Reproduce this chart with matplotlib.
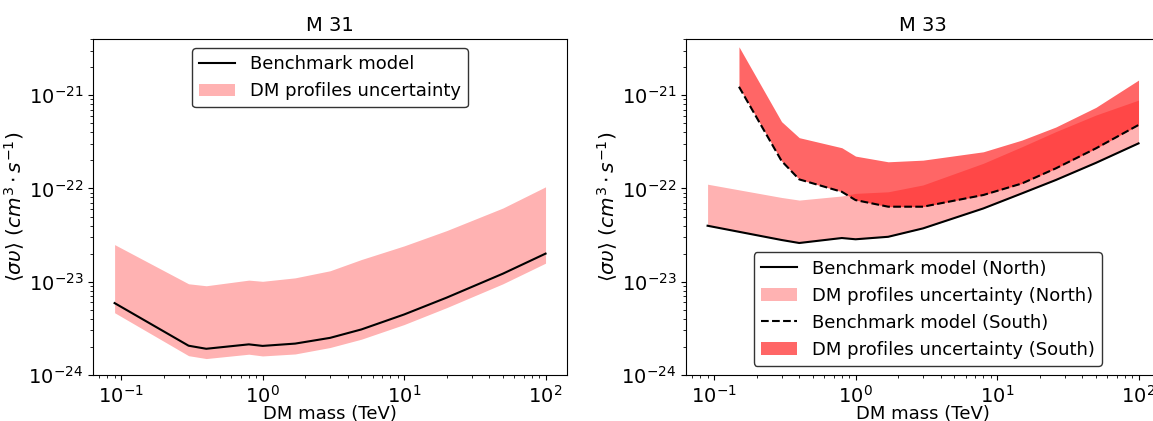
import numpy as np
import matplotlib.pyplot as plt

# M 31 (TeV, cm^3 s^-1)
m31_mass = [0.09, 0.3, 0.4, 0.8, 1.0, 1.7, 3.0, 5.0, 10.0, 20.0, 50.0, 100.0]
m31_bench = [5.9e-24, 2.06e-24, 1.91e-24, 2.13e-24, 2.05e-24, 2.17e-24,
             2.5e-24, 3.08e-24, 4.45e-24, 6.75e-24, 1.22e-23, 2.0e-23]
m31_low = [4.65e-24, 1.61e-24, 1.50e-24, 1.67e-24, 1.60e-24, 1.68e-24,
           1.97e-24, 2.42e-24, 3.47e-24, 5.27e-24, 9.5e-24, 1.58e-23]
m31_up = [2.5e-23, 9.5e-24, 9.05e-24, 1.04e-23, 1.01e-23, 1.1e-23,
          1.31e-23, 1.73e-23, 2.42e-23, 3.53e-23, 6.17e-23, 1.04e-22]

# M 33 North
north_mass = [0.09, 0.3, 0.4, 0.8, 1.0, 1.7, 3.0, 8.0, 15.0, 26.0, 50.0, 100.0]
north_bench = [3.98e-23, 2.8e-23, 2.6e-23, 2.94e-23, 2.85e-23, 3.03e-23,
               3.73e-23, 6.1e-23, 8.85e-23, 1.23e-22, 1.88e-22, 3.04e-22]
north_up = [1.11e-22, 8.0e-23, 7.5e-23, 8.3e-23, 8.85e-23, 9.2e-23,
            1.09e-22, 1.86e-22, 2.8e-22, 4.06e-22, 6.12e-22, 8.85e-22]

# M 33 South
south_mass = [0.15, 0.3, 0.4, 0.8, 1.0, 1.7, 3.0, 8.0, 15.0, 26.0, 50.0, 100.0]
south_bench = [1.23e-21, 1.97e-22, 1.25e-22, 9.2e-23, 7.5e-23, 6.37e-23,
               6.37e-23, 8.5e-23, 1.13e-22, 1.64e-22, 2.69e-22, 4.79e-22]
south_up = [3.3e-21, 5.2e-22, 3.5e-22, 2.73e-22, 2.22e-22, 1.93e-22,
            2.01e-22, 2.47e-22, 3.3e-22, 4.55e-22, 7.4e-22, 1.45e-21]

plt.rcParams['font.size'] = 14
ylab = r'$\langle \sigma \upsilon \rangle\ (cm^3 \cdot s^{-1})$'

fig = plt.figure(figsize=(11.53, 4.21), dpi=100)
ax1 = fig.add_axes([0.0807, 0.1093, 0.4111, 0.7981])
ax2 = fig.add_axes([0.595, 0.1093, 0.4111, 0.7981])

# left panel
ax1.plot(m31_mass, m31_bench, color='black', lw=1.5, label='Benchmark model')
ax1.fill_between(m31_mass, m31_low, m31_up, color='red', alpha=0.3, lw=0,
                 label='DM profiles uncertainty')
ax1.set_title('M 31', fontsize=14)
ax1.legend(loc='upper center', edgecolor='0.2', framealpha=1, fontsize=13)

# right panel
ax2.plot(north_mass, north_bench, color='black', lw=1.5,
         label='Benchmark model (North)')
ax2.fill_between(north_mass, north_bench, north_up, color='red', alpha=0.3, lw=0,
                 label='DM profiles uncertainty (North)')
ax2.plot(south_mass, south_bench, color='black', ls='--', lw=1.5,
         label='Benchmark model (South)')
ax2.fill_between(south_mass, south_bench, south_up, color='red', alpha=0.6, lw=0,
                 label='DM profiles uncertainty (South)')
ax2.set_title('M 33', fontsize=14)
ax2.legend(loc='lower center', edgecolor='0.2', framealpha=1, fontsize=13,
           bbox_to_anchor=(0.51, 0.0))

for ax in (ax1, ax2):
    ax.set_xscale('log')
    ax.set_yscale('log')
    ax.set_xlim(10**-1.198, 10**2.152)
    ax.set_ylim(1e-24, 4e-21)
    ax.set_xlabel('DM mass (TeV)', fontsize=13, labelpad=-1)
    ax.set_ylabel(ylab, fontsize=14.5, labelpad=1)

fig.savefig('out.png', dpi=100)
